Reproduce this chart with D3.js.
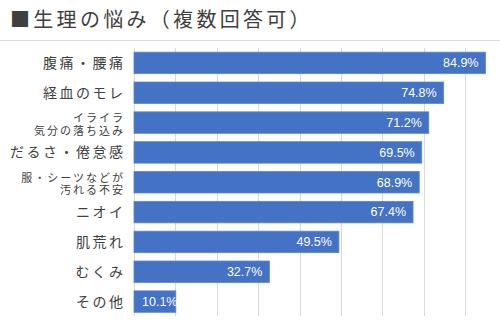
<!DOCTYPE html>
<html><head><meta charset="utf-8">
<script src="https://cdn.jsdelivr.net/npm/d3@7/dist/d3.min.js"></script>
<style>html,body{margin:0;padding:0;background:#fff;}svg{display:block;}</style>
</head><body>
<svg id="c" width="500" height="333"></svg>
<script>
const title = "■生理の悩み（複数回答可）";
const categories = ["腹痛・腰痛","経血のモレ","イライラ\n気分の落ち込み","だるさ・倦怠感","服・シーツなどが\n汚れる不安","ニオイ","肌荒れ","むくみ","その他"];
const values = [84.9,74.8,71.2,69.5,68.9,67.4,49.5,32.7,10.1];
const gridTicks = [0,10,20,30,40,50,60,70,80];

const svg = d3.select("#c");
const font = "'Noto Sans CJK JP','Noto Sans',sans-serif";
const fontTight = "'Liberation Sans','Noto Sans CJK JP',sans-serif";
const x = d3.scaleLinear().domain([0,100]).range([134,548]);
const y = d3.scaleBand().domain(categories).range([48,316.5]).paddingInner(0.28).paddingOuter(0.14);

// title
svg.append("text").attr("x",10).attr("y",27).attr("font-family",font).attr("font-size",20)
  .attr("letter-spacing","3.3px").attr("fill","#3f3f3f").text(title);
// top separator
svg.append("line").attr("x1",0).attr("x2",500).attr("y1",40.5).attr("y2",40.5).attr("stroke","#dcdcdc").attr("stroke-width",1);

// gridlines
svg.append("g").selectAll("line").data(gridTicks).join("line")
  .attr("x1",d=>Math.round(x(d))+0.5).attr("x2",d=>Math.round(x(d))+0.5)
  .attr("y1",48).attr("y2",316).attr("stroke","#d9d9d9").attr("stroke-width",1);

// bars
svg.append("g").selectAll("rect").data(values).join("rect")
  .attr("x",x(0)).attr("y",(d,i)=>y(categories[i]))
  .attr("width",d=>x(d)-x(0)).attr("height",y.bandwidth())
  .attr("fill","#4472c4").attr("stroke","#5b87d6").attr("stroke-width",0.8);

// value labels
const vl = svg.append("g").selectAll("text").data(values).join("text")
  .attr("y",(d,i)=>y(categories[i])+y.bandwidth()/2+4.3)
  .attr("font-family","'Liberation Sans',Arial,sans-serif").attr("font-size",12.5)
  .attr("fill","#ffffff").attr("text-anchor","end").text(d=>d.toFixed(1)+"%");
vl.each(function(d){
  const w = this.getComputedTextLength();
  const xe = Math.max(x(d)-7, x(0)+8+w);
  d3.select(this).attr("x",xe);
});

// category labels
const lg = svg.append("g");
categories.forEach((c,i)=>{
  const lines = c.split("\n");
  const cy = y(c)+y.bandwidth()/2;
  if(lines.length===1){
    lg.append("text").attr("x",123+2.5).attr("y",cy+5).attr("text-anchor","end")
      .attr("font-family",font).attr("font-size",14).attr("letter-spacing","2.5px")
      .attr("fill","#404040").text(lines[0]);
  } else {
    lines.forEach((s,j)=>{
      lg.append("text").attr("text-anchor","end")
        .attr("font-family",fontTight).attr("font-size",11).attr("letter-spacing","2px")
        .attr("fill","#404040")
        .attr("x",123+2).attr("y",cy+2-6.25+j*12.5+3.9).text(s);
    });
  }
});
</script>
</body></html>
